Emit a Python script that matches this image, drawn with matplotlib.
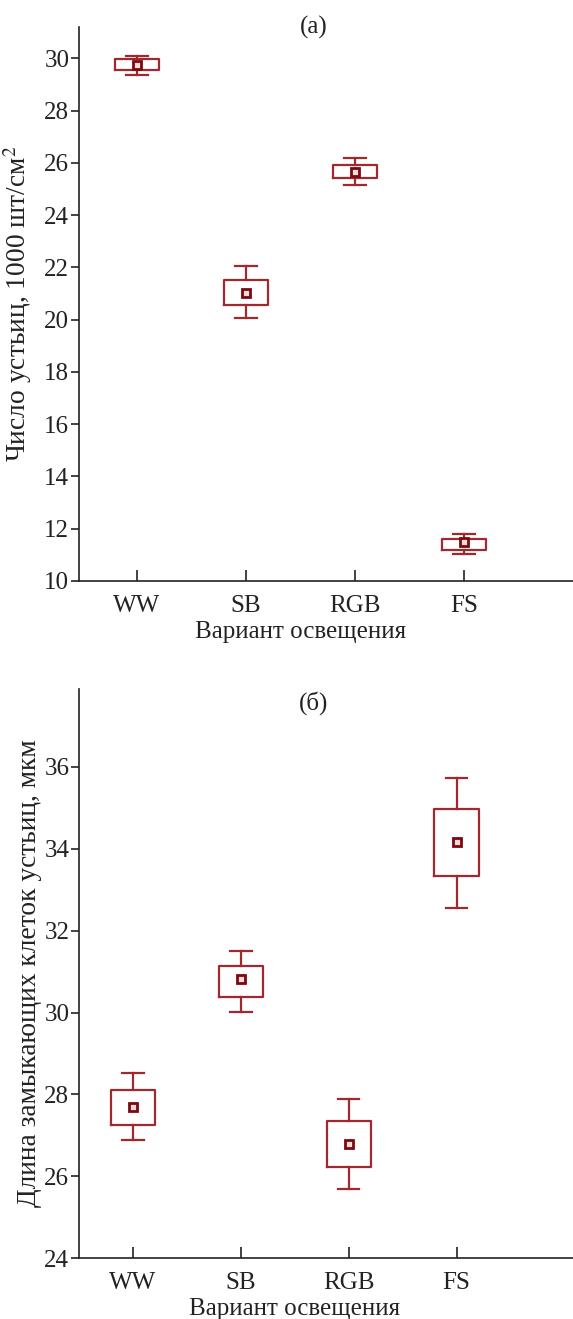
import matplotlib
matplotlib.use('Agg')
import matplotlib.pyplot as plt

plt.rcParams['font.family'] = ['Liberation Serif', 'DejaVu Serif']
plt.rcParams['mathtext.fontset'] = 'stix'

variants = ['WW', 'SB', 'RGB', 'FS']

# (a) stomata count, 1000 pcs/cm2
a_low = [29.38, 20.05, 25.17, 11.02]
a_q1 = [29.55, 20.57, 25.43, 11.20]
a_mean = [29.73, 21.01, 25.65, 11.48]
a_q3 = [29.96, 21.53, 25.93, 11.61]
a_high = [30.08, 22.04, 26.20, 11.80]

# (b) guard cell length, um
b_low = [26.90, 30.01, 25.68, 32.56]
b_q1 = [27.26, 30.39, 26.24, 33.34]
b_mean = [27.70, 30.81, 26.79, 34.17]
b_q3 = [28.11, 31.14, 27.35, 34.97]
b_high = [28.52, 31.51, 27.90, 35.72]

red = '#a0282e'
dark = '#7a0a0f'
fs = 18

fig = plt.figure(figsize=(5.73, 13.19), dpi=100)
ax1 = fig.add_axes([79/573, 1-581/1319, 494/573, 554/1319])
ax2 = fig.add_axes([79/573, 1-1258.3/1319, 494/573, 569.3/1319])


def draw(ax, low, q1, mean, q3, high, xlim, ylim, yticks, ylabel, tag, tag_y,
         ylab_x, xlab_y):
    stats = []
    for i in range(len(variants)):
        stats.append({'whislo': low[i], 'q1': q1[i], 'med': mean[i],
                      'q3': q3[i], 'whishi': high[i], 'fliers': []})
    pos = list(range(1, len(variants) + 1))
    ax.bxp(stats, positions=pos, widths=0.41, capwidths=0.2,
           showfliers=False,
           boxprops=dict(color=red, linewidth=1.6),
           whiskerprops=dict(color=red, linewidth=1.6),
           capprops=dict(color=red, linewidth=1.6),
           medianprops=dict(linewidth=0))
    ax.plot(pos, mean, linestyle='none', marker='s', markersize=5.5,
            markerfacecolor='#f4dada', markeredgecolor=dark,
            markeredgewidth=2)
    ax.set_xlim(*xlim)
    ax.set_ylim(*ylim)
    ax.set_xticks(pos)
    ax.set_xticklabels(variants)
    ax.set_yticks(yticks)
    for s in ['top', 'right']:
        ax.spines[s].set_visible(False)
    for s in ['left', 'bottom']:
        ax.spines[s].set_linewidth(1.2)
        ax.spines[s].set_color('#222222')
    ax.tick_params(axis='y', direction='out', length=6, width=1.2,
                   labelsize=fs, colors='#222222', pad=1)
    ax.tick_params(axis='x', direction='in', length=8, width=1.2,
                   labelsize=fs, colors='#222222', pad=10)
    ax.set_xlabel('Вариант освещения', fontsize=fs, color='#222222')
    ax.set_ylabel(ylabel, fontsize=19.8, color='#222222')
    # centre the x label under the ticks, as in the original
    xc = (2.5 - xlim[0]) / (xlim[1] - xlim[0])
    ax.xaxis.set_label_coords(xc, xlab_y)
    ax.yaxis.set_label_coords(ylab_x, 0.5)
    ax.text(0.475, tag_y, tag, transform=ax.transAxes, ha='center',
            va='center', fontsize=fs, color='#222222')


draw(ax1, a_low, a_q1, a_mean, a_q3, a_high, (0.468, 5.0), (10, 31.2),
     [10, 12, 14, 16, 18, 20, 22, 24, 26, 28, 30],
     'Число устьиц, 1000 шт/см$^2$', '(a)', 1.0, -0.091, -0.073)

draw(ax2, b_low, b_q1, b_mean, b_q3, b_high, (0.50, 5.08), (24, 37.9),
     [24, 26, 28, 30, 32, 34, 36],
     'Длина замыкающих клеток устьиц, мкм', '(б)', 0.975, -0.075, -0.07)

fig.savefig('out.png', dpi=100)
